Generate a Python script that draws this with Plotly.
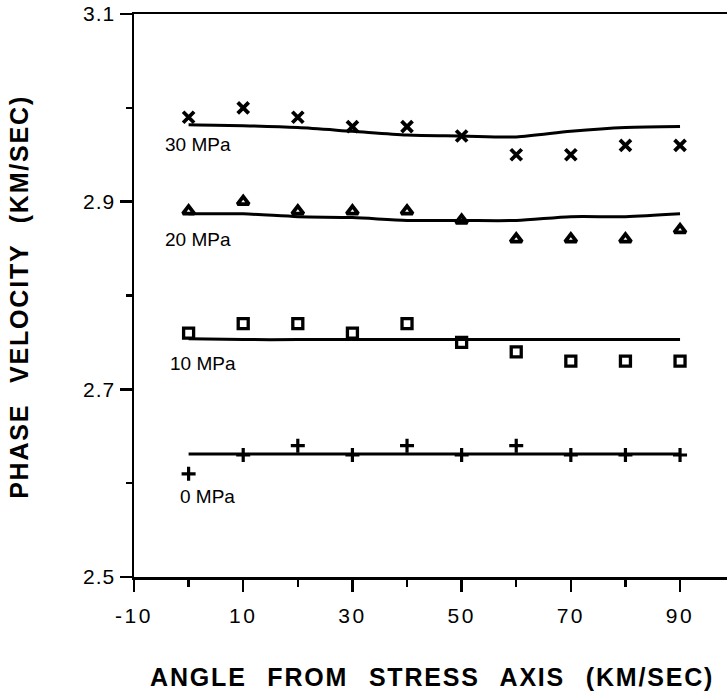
import plotly.graph_objects as go

# ---- data ----
angle = [0, 10, 20, 30, 40, 50, 60, 70, 80, 90]

v30 = [2.99, 3.00, 2.99, 2.98, 2.98, 2.97, 2.95, 2.95, 2.96, 2.96]
v20 = [2.89, 2.90, 2.89, 2.89, 2.89, 2.88, 2.86, 2.86, 2.86, 2.87]
v10 = [2.76, 2.77, 2.77, 2.76, 2.77, 2.75, 2.74, 2.73, 2.73, 2.73]
v0 = [2.61, 2.63, 2.64, 2.63, 2.64, 2.63, 2.64, 2.63, 2.63, 2.63]

fit30 = [2.982, 2.981, 2.979, 2.975, 2.971, 2.970, 2.969, 2.975, 2.979, 2.980]
fit20 = [2.887, 2.887, 2.884, 2.883, 2.880, 2.880, 2.880, 2.884, 2.884, 2.887]
fit10 = [2.754, 2.753, 2.753, 2.753, 2.753, 2.753, 2.753, 2.753, 2.753, 2.753]
fit0 = [2.631, 2.631, 2.631, 2.631, 2.631, 2.631, 2.631, 2.631, 2.631, 2.631]

series_labels = ["30 MPa", "20 MPa", "10 MPa", "0 MPa"]

x_tickvals = [-10, 10, 30, 50, 70, 90]
x_ticktext = ["-10", "10", "30", "50", "70", "90"]
y_tickvals = [2.5, 2.7, 2.9, 3.1]
y_ticktext = ["2.5", "2.7", "2.9", "3.1"]

x_title = "ANGLE FROM STRESS AXIS (KM/SEC)"
y_title = "PHASE VELOCITY (KM/SEC)"

# ---- figure ----
fig = go.Figure()

for fit in [fit30, fit20, fit10, fit0]:
    fig.add_trace(go.Scatter(
        x=angle, y=fit, mode="lines",
        line=dict(color="black", width=3, shape="spline", smoothing=0.8),
        hoverinfo="skip", showlegend=False))

marker_specs = [
    (v30, dict(symbol="x-thin-open", size=11, line=dict(color="black", width=3.8))),
    (v20, dict(symbol="triangle-up-open", size=10, line=dict(color="black", width=3.8))),
    (v10, dict(symbol="square-open", size=10, line=dict(color="black", width=3.3))),
    (v0, dict(symbol="cross-thin-open", size=10, line=dict(color="black", width=3.2))),
]
for vals, mk in marker_specs:
    fig.add_trace(go.Scatter(
        x=angle, y=vals, mode="markers",
        marker=dict(color="black", **mk), showlegend=False))

FONT = "Liberation Sans, Arial, Helvetica, sans-serif"

annotations = [
    dict(text="<b>" + x_title + "</b>", xref="paper", yref="paper",
         x=0.502, y=-0.1785, xanchor="center", yanchor="middle",
         showarrow=False, font=dict(family=FONT, size=25, color="black")),
    dict(text="<b>" + y_title + "</b>", xref="paper", yref="paper",
         x=-0.194, y=0.497, xanchor="center", yanchor="middle", textangle=-90,
         showarrow=False, font=dict(family=FONT, size=25, color="black")),
]
label_pos = [(-4.7, 2.961), (-4.7, 2.860), (-3.8, 2.728), (-2.0, 2.586)]
for lab, (lx, ly) in zip(series_labels, label_pos):
    annotations.append(dict(text=lab, x=lx, y=ly, xref="x", yref="y",
                            xanchor="left", yanchor="middle", showarrow=False,
                            font=dict(family=FONT, size=19, color="black")))

fig.update_layout(
    width=727, height=695,
    margin=dict(l=134, r=0, t=14, b=118),
    paper_bgcolor="white", plot_bgcolor="white",
    font=dict(family=FONT, color="black"),
    annotations=annotations,
    showlegend=False,
)

fig.update_xaxes(
    range=[-10, 98.6], showgrid=False, zeroline=False,
    showline=True, linecolor="black", linewidth=2.5, mirror=True,
    ticks="outside", ticklen=12, tickwidth=2.5, tickcolor="black",
    tickvals=x_tickvals, ticktext=x_ticktext,
    tickfont=dict(family=FONT, size=21, color="black"),
    ticklabelstandoff=6,
    minor=dict(tickvals=[0, 20, 40, 60, 80], ticks="outside", ticklen=7,
               tickwidth=2.5, tickcolor="black", showgrid=False),
)
fig.update_yaxes(
    range=[2.5, 3.1], showgrid=False, zeroline=False,
    showline=True, linecolor="black", linewidth=2.5,
    ticks="outside", ticklen=12, tickwidth=2.5, tickcolor="black",
    tickvals=y_tickvals, ticktext=y_ticktext,
    tickfont=dict(family=FONT, size=21, color="black"),
    ticklabelstandoff=0,
    minor=dict(tickvals=[2.6, 2.8, 3.0], ticks="outside", ticklen=6,
               tickwidth=2.5, tickcolor="black", showgrid=False),
)

post = """
document.body.style.margin = '0';
document.body.style.overflow = 'hidden';
var gd = document.getElementById('{plot_id}');
function sty(){
  gd.querySelectorAll('.xtick text').forEach(function(e){e.style.letterSpacing='2.5px';});
  gd.querySelectorAll('.ytick text').forEach(function(e){e.style.letterSpacing='1px';});
  var a = gd.querySelectorAll('.annotation-text');
  for (var i = 0; i < 2 && i < a.length; i++) {
    a[i].style.letterSpacing = '1.8px';
    a[i].style.wordSpacing = '12px';
  }
}
sty();
gd.on('plotly_afterplot', sty);
"""

fig.write_html("out.html", post_script=post,
               config={"displayModeBar": False, "staticPlot": True})
